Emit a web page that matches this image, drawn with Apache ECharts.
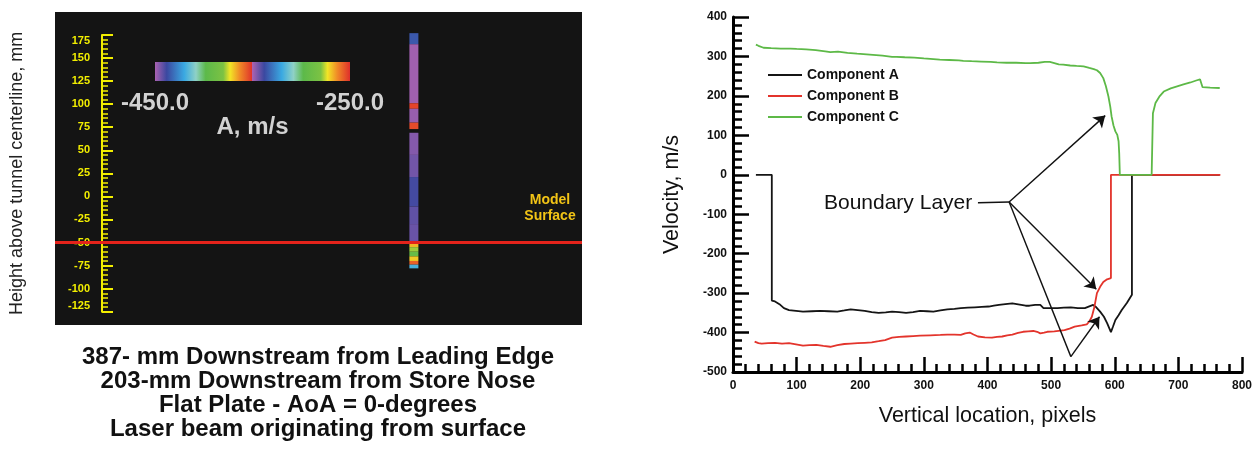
<!DOCTYPE html>
<html lang="en">
<head>
<meta charset="UTF-8">
<title>Velocity profile</title>
<script src="https://cdn.jsdelivr.net/npm/echarts@6/dist/echarts.min.js"></script>
<style>
  body{margin:0;background:#fff;}
  #chart{width:1255px;height:453px;}
</style>
</head>
<body>
<div id="chart"></div>
<script>
// ---- left panel: laser strip ----
var heightRange = [-125, 175];          // mm
var surfaceHeight = -50;                // mm, model surface
var stripEdges = [177, 165, 101, 95, 80, 73, 69, 45, 21, -11, -30, -50, -55, -60, -65, -70, -74, -78];
var stripValues = [-335, -349, -353, -348, -354, null, -346, -344, -339, -342, -343, -268, -278, -292, -270, -257, -318];
var colorbarRange = [-450, -250];
var colorbarLabels = [-450, -250];
var captionLines = [
  '387- mm Downstream from Leading Edge',
  '203-mm Downstream from Store Nose',
  'Flat Plate - AoA = 0-degrees',
  'Laser beam originating from surface'
];

// ---- right panel: velocity components ----
var compA = [[36,0],[61,0],[61,-319],[66,-321],[73,-328],[80,-338],[88,-343],[99,-345],[110,-347],[124,-346],[137,-345],[150,-346],[164,-347],[175,-344],[185,-341],[196,-343],[207,-345],[218,-348],[229,-350],[240,-349],[250,-347],[261,-348],[272,-350],[283,-348],[294,-345],[305,-346],[315,-347],[326,-344],[337,-341],[348,-340],[358,-338],[369,-337],[380,-336],[391,-335],[402,-334],[410,-332],[418,-330],[428,-328],[439,-326],[446,-328],[453,-330],[460,-332],[466,-332],[475,-330],[483,-330],[488,-338],[499,-338],[510,-338],[520,-337],[531,-336],[542,-338],[553,-338],[561,-333],[566,-330],[571,-336],[577,-347],[583,-360],[588,-376],[594,-399],[597,-386],[601,-368],[606,-356],[611,-343],[619,-325],[627,-304],[627,0],[765,0]];
var compB = [[34,-423],[40,-427],[45,-428],[55,-427],[66,-426],[77,-428],[88,-427],[99,-430],[110,-433],[120,-432],[131,-431],[142,-434],[153,-436],[164,-432],[175,-429],[185,-428],[196,-427],[207,-426],[218,-425],[229,-422],[239,-419],[250,-413],[261,-411],[272,-410],[283,-409],[294,-408],[310,-407],[326,-406],[337,-405],[348,-405],[358,-406],[365,-402],[372,-400],[378,-405],[385,-410],[396,-412],[407,-413],[415,-411],[423,-410],[431,-407],[439,-405],[448,-401],[456,-398],[464,-397],[472,-396],[478,-398],[483,-402],[489,-400],[494,-398],[505,-397],[515,-395],[521,-394],[529,-390],[537,-385],[548,-382],[556,-379],[560,-372],[564,-360],[568,-335],[572,-300],[577,-284],[582,-272],[588,-265],[594,-262],[594,0],[766,0]];
var compC = [[36,330],[40,327],[48,322],[60,321],[75,320],[90,320],[100,319],[115,318],[130,316],[145,313],[153,311],[165,312],[180,309],[195,307],[205,306],[220,304],[235,302],[250,299],[257,299],[270,298],[285,297],[300,295],[310,294],[325,292],[340,291],[355,290],[362,289],[375,288],[390,287],[405,286],[415,285],[430,284],[445,284],[460,283],[467,283],[480,284],[490,286],[498,286],[505,283],[512,280],[519,279],[530,277],[540,276],[551,275],[560,271],[567,268],[572,265],[577,258],[582,245],[586,225],[590,199],[593,172],[595,148],[598,125],[601,110],[604,101],[606,85],[607,55],[608,0],[658,0],[660,156],[664,182],[670,198],[677,211],[688,219],[698,224],[708,229],[719,234],[728,239],[734,242],[737,243],[738,222],[750,221],[765,220]];

// "Boundary Layer" callout, data coords
var calloutText = [376, -71];
var calloutLines = [
  [[385, -71], [434, -69], false],
  [[434, -69], [585, 150], true],
  [[434, -69], [571, -290], true],
  [[434, -69], [531, -461], false],
  [[531, -461], [576, -360], true]
];

var FONT = 'Liberation Sans, Arial, sans-serif';

// two-cycle rainbow of the colour bar
var cycleStops = [[0,'#a962b0'],[0.12,'#3b48a0'],[0.3,'#3aa9e2'],[0.42,'#8fd1c6'],[0.52,'#5cb94a'],[0.7,'#7cc243'],[0.77,'#f2e526'],[0.87,'#f08a27'],[1,'#df2f2b']];
function colorAt(v) {
  var t = (v - colorbarRange[0]) / (colorbarRange[1] - colorbarRange[0]) * 2;
  t = t - Math.floor(t);
  for (var i = 1; i < cycleStops.length; i++) {
    if (t <= cycleStops[i][0]) {
      var a = cycleStops[i - 1], b = cycleStops[i];
      return echarts.color.lerp((t - a[0]) / (b[0] - a[0]), [a[1], b[1]]);
    }
  }
  return cycleStops[cycleStops.length - 1][1];
}
var barStops = [];
cycleStops.forEach(function (s) { barStops.push({offset: s[0] / 2, color: s[1]}); });
cycleStops.forEach(function (s) { barStops.push({offset: 0.5 + s[0] / 2, color: s[1]}); });

var stripData = [];
for (var i = 0; i < stripValues.length; i++) {
  if (stripValues[i] !== null) stripData.push([stripEdges[i], stripEdges[i + 1], stripValues[i]]);
}
var stripX = 0.681;

var markLines = calloutLines.map(function (l) {
  return [{coord: l[0], symbol: 'none'}, {coord: l[1], symbol: l[2] ? 'arrow' : 'none'}];
});

var graphics = [
  {type: 'rect', z: -1, shape: {x: 55, y: 12, width: 527, height: 313}, style: {fill: '#141414'}},
  {type: 'text', x: 550, y: 200, style: {text: 'Model', fill: '#f2c416', font: 'bold 14px ' + FONT, textAlign: 'center', textVerticalAlign: 'middle'}},
  {type: 'text', x: 550, y: 216, style: {text: 'Surface', fill: '#f2c416', font: 'bold 14px ' + FONT, textAlign: 'center', textVerticalAlign: 'middle'}}
];
captionLines.forEach(function (t, i) {
  graphics.push({type: 'text', x: 318, y: 357 + i * 24,
    style: {text: t, fill: '#111', font: 'bold 24px ' + FONT, textAlign: 'center', textVerticalAlign: 'middle'}});
});

var chart = echarts.init(document.getElementById('chart'));
var option = {
  animation: false,
  textStyle: {fontFamily: FONT},
  graphic: graphics,
  grid: [
    {left: 55, right: 673, top: 35, bottom: 141.3, outerBoundsMode: 'none'},
    {left: 155, width: 195, top: 62, height: 19, outerBoundsMode: 'none'},
    {left: 733, right: 13, top: 17, bottom: 81, outerBoundsMode: 'none'}
  ],
  xAxis: [
    {gridIndex: 0, type: 'value', min: 0, max: 1, show: false},
    {gridIndex: 1, type: 'value', min: colorbarRange[0], max: colorbarRange[1], interval: 50,
      axisLine: {show: false}, axisTick: {show: false}, splitLine: {show: false},
      axisLabel: {margin: 10, fontSize: 24, fontWeight: 'bold', color: '#d2d2d2',
        showMinLabel: true, showMaxLabel: true,
        formatter: function (v) { return colorbarLabels.indexOf(v) >= 0 ? v.toFixed(1) : ''; }},
      name: 'A, m/s', nameLocation: 'middle', nameGap: 34, nameMoveOverlap: false,
      nameTextStyle: {fontSize: 24, fontWeight: 'bold', color: '#d2d2d2'}},
    {gridIndex: 2, type: 'value', min: 0, max: 800, interval: 100,
      axisLine: {onZero: false, lineStyle: {color: '#000', width: 3}},
      axisTick: {inside: true, length: 15, lineStyle: {color: '#000', width: 2.5}},
      minorTick: {show: true, splitNumber: 5, length: 8, lineStyle: {color: '#000', width: 2.5}},
      splitLine: {show: false},
      axisLabel: {margin: 8, fontSize: 12, fontWeight: 'bold', color: '#111'},
      name: 'Vertical location, pixels', nameLocation: 'middle', nameGap: 33, nameMoveOverlap: false,
      nameTextStyle: {fontSize: 21.5, color: '#111'}}
  ],
  yAxis: [
    {gridIndex: 0, type: 'value', min: heightRange[0], max: heightRange[1], interval: 25, offset: -47,
      axisLine: {show: true, lineStyle: {color: '#f2ee00', width: 2}},
      axisTick: {show: true, inside: true, length: 11, lineStyle: {color: '#f2ee00', width: 2}},
      minorTick: {show: true, splitNumber: 5, length: 6, lineStyle: {color: '#f2ee00', width: 1.5}},
      splitLine: {show: false},
      axisLabel: {margin: 12, fontSize: 11, fontWeight: 'bold', color: '#f2ee00',
        verticalAlignMaxLabel: 'top', verticalAlignMinLabel: 'bottom'},
      name: 'Height above tunnel centerline, mm', nameLocation: 'middle', nameGap: 76, nameMoveOverlap: false,
      nameTextStyle: {fontSize: 18, color: '#222'}},
    {gridIndex: 1, type: 'value', min: 0, max: 1, show: false},
    {gridIndex: 2, type: 'value', min: -500, max: 400, interval: 100,
      axisLine: {show: true, onZero: false, lineStyle: {color: '#000', width: 3}},
      axisTick: {show: true, inside: true, length: 16, lineStyle: {color: '#000', width: 2.5}},
      minorTick: {show: true, splitNumber: 5, length: 9, lineStyle: {color: '#000', width: 2.5}},
      splitLine: {show: false},
      axisLabel: {margin: 6, fontSize: 12, fontWeight: 'bold', color: '#111'},
      name: 'Velocity, m/s', nameLocation: 'middle', nameGap: 50, nameMoveOverlap: false,
      nameTextStyle: {fontSize: 21.5, color: '#111'}}
  ],
  legend: {
    orient: 'vertical', left: 763, top: 63, icon: 'rect', itemWidth: 34, itemHeight: 2, itemGap: 7,
    textStyle: {fontSize: 14, fontWeight: 'bold', color: '#111'},
    data: ['Component A', 'Component B', 'Component C']
  },
  series: [
    {type: 'custom', xAxisIndex: 0, yAxisIndex: 0, z: 3, data: stripData,
      renderItem: function (params, api) {
        var top = api.coord([stripX, api.value(0)]);
        var bottom = api.coord([stripX, api.value(1)]);
        return {type: 'rect', shape: {x: top[0] - 4.5, y: top[1], width: 9, height: bottom[1] - top[1]},
          style: {fill: colorAt(api.value(2))}};
      },
      markLine: {silent: true, symbol: 'none', z: 10, label: {show: false},
        lineStyle: {color: '#e4231b', width: 3, type: 'solid'},
        data: [{yAxis: surfaceHeight}]}
    },
    {type: 'custom', xAxisIndex: 1, yAxisIndex: 1, data: [[colorbarRange[0], colorbarRange[1]]],
      renderItem: function (params, api) {
        var p0 = api.coord([api.value(0), 1]);
        var p1 = api.coord([api.value(1), 0]);
        return {type: 'rect', shape: {x: p0[0], y: p0[1], width: p1[0] - p0[0], height: p1[1] - p0[1]},
          style: {fill: new echarts.graphic.LinearGradient(0, 0, 1, 0, barStops)}};
      }
    },
    {name: 'Component A', type: 'line', xAxisIndex: 2, yAxisIndex: 2, data: compA, symbol: 'none',
      color: '#151515', lineStyle: {width: 1.8},
      markLine: {silent: true, symbolSize: 11, label: {show: false},
        lineStyle: {color: '#111', width: 1.4, type: 'solid'}, data: markLines},
      markPoint: {silent: true, symbol: 'rect', symbolSize: 0,
        label: {show: true, position: 'left', distance: 0, formatter: 'Boundary Layer', fontSize: 21, color: '#111'},
        data: [{coord: calloutText}]}
    },
    {name: 'Component B', type: 'line', xAxisIndex: 2, yAxisIndex: 2, data: compB, symbol: 'none',
      color: '#e3342c', lineStyle: {width: 1.8}},
    {name: 'Component C', type: 'line', xAxisIndex: 2, yAxisIndex: 2, data: compC, symbol: 'none',
      color: '#5db947', lineStyle: {width: 1.8}}
  ]
};
chart.setOption(option);
</script>
</body>
</html>
